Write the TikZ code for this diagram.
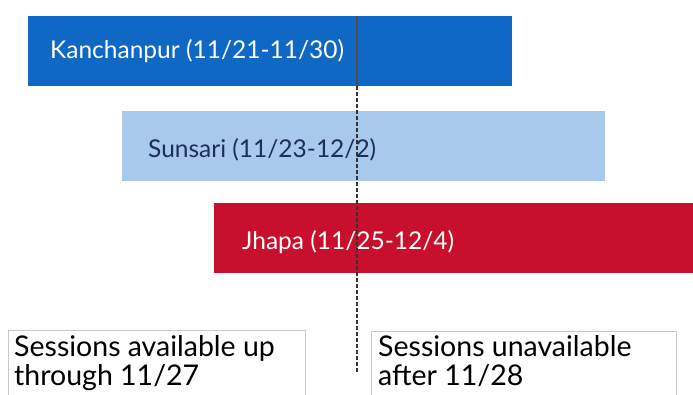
\documentclass[tikz,border=0pt]{standalone}
\usepackage{fontspec}
\setmainfont{Lato}
\definecolor{kblue}{RGB}{14,104,196}
\definecolor{slblue}{RGB}{168,200,236}
\definecolor{sntext}{RGB}{28,46,90}
\definecolor{jred}{RGB}{200,16,46}
\definecolor{boxgray}{RGB}{200,200,200}
\begin{document}
\begin{tikzpicture}[x=1pt,y=-1pt,
  bar/.style={rectangle, anchor=north west, minimum height=70pt, inner sep=0pt, outer sep=0pt},
  bartext/.style={anchor=base west, inner sep=0pt, font=\fontsize{24.5}{28}\selectfont},
  notetext/.style={anchor=north west, inner sep=0pt, align=left, font=\fontsize{28.5}{29}\selectfont, text=black},
  divider/.style={line width=1.1pt, draw=black!80, dash pattern=on 4pt off 2pt},
  notebox/.style={draw=boxgray, line width=0.8pt}
]
\useasboundingbox (0,0) rectangle (693,394);
\fill[white] (0,0) rectangle (693,394);
% bars
\node[bar, fill=kblue, minimum width=484pt] (kbar) at (28,16) {};
\node[bar, fill=slblue, minimum width=483pt] (sbar) at (122,111) {};
\node[bar, fill=jred, minimum width=479pt] (jbar) at (214,203) {};
% bar labels
\node[bartext, text=white] (ktext) at (50,58) {Kanchanpur (11/21-11/30)};
\node[bartext, text=sntext] (stext) at (148,157) {Sunsari (11/23-12/2)};
\node[bartext, text=white] (jtext) at (242,249) {Jhapa (11/25-12/4)};
% note boxes
\coordinate (lbTL) at (8,330);
\coordinate (lbTR) at (305,330);
\coordinate (lbBL) at (8,400);
\coordinate (lbBR) at (305,400);
\coordinate (rbTL) at (371,331);
\coordinate (rbTR) at (676,331);
\coordinate (rbBL) at (371,400);
\coordinate (rbBR) at (676,400);
\draw[notebox] (lbBL) -- (lbTL) -- (lbTR) -- (lbBR);
\draw[notebox] (rbBL) -- (rbTL) -- (rbTR) -- (rbBR);
\node[notetext] (ltext) at (14,335) {Sessions available up\\through 11/27};
\node[notetext] (rtext) at (378,335) {Sessions unavailable\\after 11/28};
% divider
\coordinate (dtop) at (357,16);
\coordinate (dmid) at (357,86);
\coordinate (dbot) at (357,374);
\draw[line width=1.1pt, draw=black!70] (dtop) -- (dmid);
\draw[divider] (dmid) -- (dbot);
\end{tikzpicture}
\end{document}
